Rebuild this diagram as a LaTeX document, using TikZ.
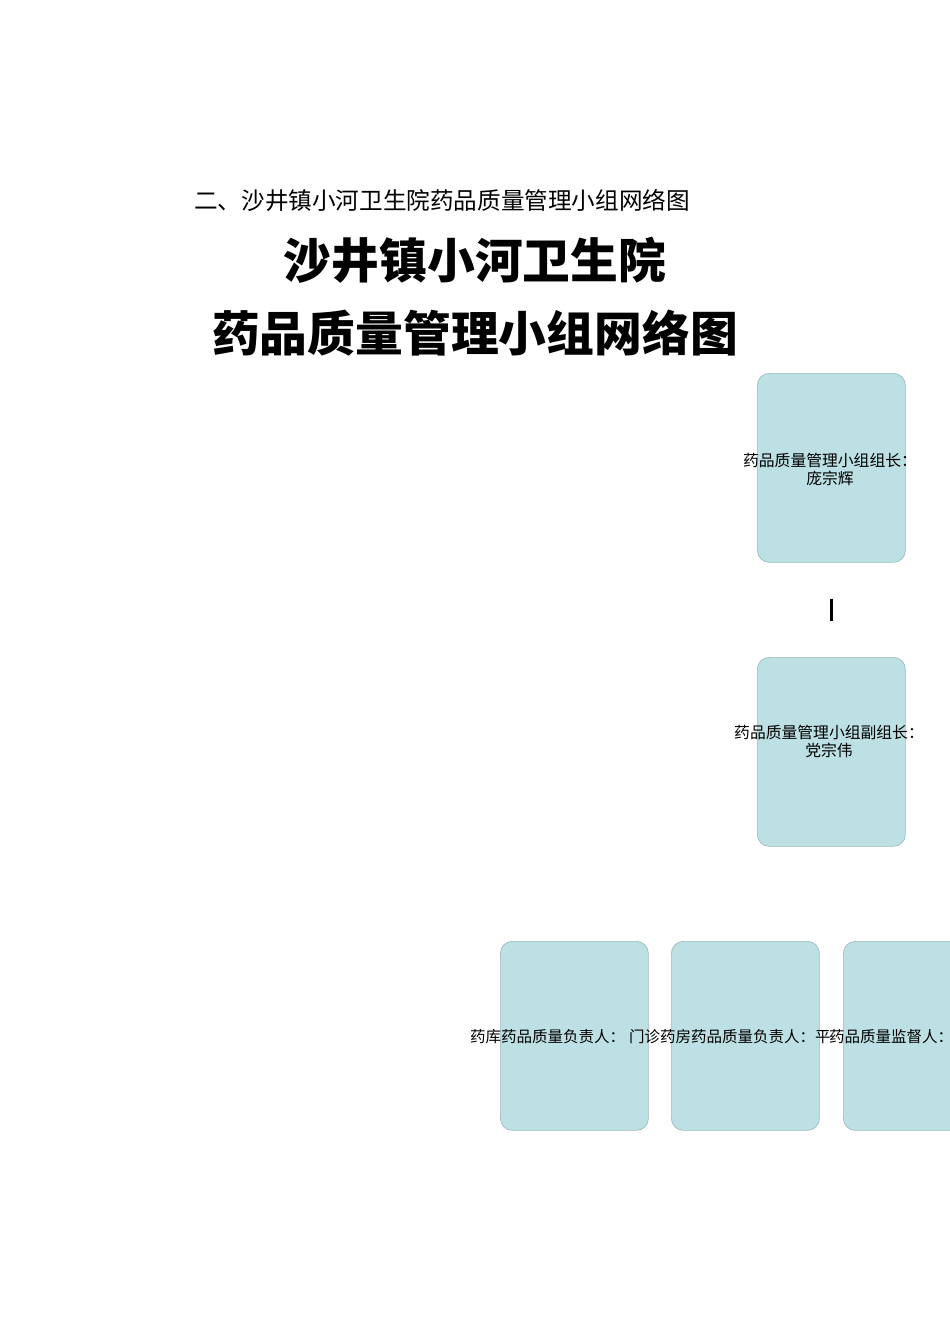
\documentclass[tikz,border=0pt]{standalone}
\usepackage{fontspec}
\newfontfamily\cjk{Noto Sans CJK SC}
\definecolor{boxfill}{HTML}{BCE0E3}
\definecolor{boxline}{HTML}{9EBBBF}
\begin{document}
\begin{tikzpicture}[x=1pt,y=-1pt,
  card/.style={draw=boxline, fill=boxfill, line width=0.7pt, rounded corners=12pt,
    minimum width=148pt, minimum height=189pt, inner sep=0pt, anchor=north west},
  cardtext/.style={font=\cjk\fontsize{15.8pt}{18pt}\selectfont, align=center, inner sep=0pt},
  linktext/.style={font=\cjk\fontsize{15.5pt}{18pt}\selectfont, inner sep=0pt, anchor=west},
  link/.style={line width=3.3pt, black}]
\useasboundingbox (0,0) rectangle (950,1344);
\fill[white] (0,0) rectangle (950,1344);

\node[font=\cjk\fontsize{23.6pt}{26pt}\selectfont, inner sep=0pt] (sub) at (442,200) {二、沙井镇小河卫生院药品质量管理小组网络图};
\node[font=\cjk\bfseries\fontsize{47.8pt}{52pt}\selectfont, inner sep=0pt] (t1) at (475,260) {沙井镇小河卫生院};
\node[font=\cjk\bfseries\fontsize{47.8pt}{52pt}\selectfont, inner sep=0pt] (t2) at (475,333) {药品质量管理小组网络图};

\node[card] (b1) at (757,373) {};
\node[card] (b2) at (757,657) {};
\node[card] (b3) at (500,941) {};
\node[card] (b4) at (671,941) {};
\node[card] (b5) at (843,941) {};

\node[cardtext] (l1) at (830,469) {药品质量管理小组组长：\\庞宗辉};
\node[cardtext] (l2) at (829,741) {药品质量管理小组副组长：\\党宗伟};

\node[linktext] (l3) at (470,1037) {药库药品质量负责人：};
\node[linktext] (l4) at (629,1037) {门诊药房药品质量负责人：平};
\node[linktext] (l5) at (829,1037) {药品质量监督人：};

\draw[link] ([yshift=-36pt]b1.south) -- ([yshift=36pt]b2.north);
\end{tikzpicture}
\end{document}
